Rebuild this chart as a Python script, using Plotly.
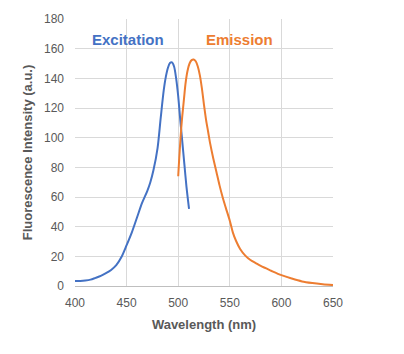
import plotly.graph_objects as go

# Excitation spectrum
ex_wl = [400, 405, 410, 415, 420, 425, 430, 435, 440, 445, 450, 455, 460, 465, 470,
         473, 476, 480, 483, 486, 488, 490, 492, 494, 496, 498, 500, 502, 504, 506, 508, 510.5]
ex_int = [3.3, 3.4, 3.7, 4.3, 5.5, 6.8, 8.6, 10.8, 14, 19.5, 27.5, 36, 46, 56, 64,
          70, 78, 93, 113, 132, 141, 147, 150.3, 150.8, 148, 140, 128, 112, 97, 82, 67, 52]

# Emission spectrum
em_wl = [500, 501, 502, 503, 504, 505, 506, 507, 509, 511, 513, 515, 517, 519, 521, 523,
         525, 527, 529, 531, 534, 537, 540, 543, 546, 550, 553, 556, 560, 565, 570, 575,
         580, 590, 600, 610, 620, 630, 640, 650]
em_int = [74, 86, 97, 107, 115, 122, 129, 136, 145, 150, 152.3, 152.7, 151.5, 148, 142, 133,
          122, 112, 104, 96, 86, 77, 68, 60, 53, 44, 36, 30.5, 25, 20.5, 17.5, 15.5,
          13.5, 10.3, 7.3, 5, 3.1, 2, 1.2, 0.6]

x_ticks = [400, 450, 500, 550, 600, 650]
y_ticks = [0, 20, 40, 60, 80, 100, 120, 140, 160, 180]

BLUE = "#4472C4"
ORANGE = "#ED7D31"
GRAY = "#595959"

fig = go.Figure()
fig.add_trace(go.Scatter(x=ex_wl, y=ex_int, mode="lines", name="Excitation",
                         line=dict(color=BLUE, width=2, shape="spline", smoothing=0.8)))
fig.add_trace(go.Scatter(x=em_wl, y=em_int, mode="lines", name="Emission",
                         line=dict(color=ORANGE, width=2, shape="spline", smoothing=0.8)))

fig.add_annotation(x=414.5, y=166, text="<b>Excitation</b>", showarrow=False,
                   xanchor="left", yanchor="middle",
                   font=dict(color=BLUE, size=15, family="Liberation Sans"))
fig.add_annotation(x=525, y=166, text="<b>Emission</b>", showarrow=False,
                   xanchor="left", yanchor="middle",
                   font=dict(color=ORANGE, size=15, family="Liberation Sans"))

fig.update_layout(
    width=404, height=354,
    margin=dict(l=75, r=71, t=15, b=68),
    paper_bgcolor="white", plot_bgcolor="white",
    showlegend=False,
    font=dict(family="Liberation Sans", size=12, color=GRAY),
    xaxis=dict(range=[400, 650], tickvals=x_ticks, showgrid=True, gridcolor="#D9D9D9",
               gridwidth=1, showline=True, linecolor="#BFBFBF", linewidth=1,
               zeroline=False, ticks="", ticklabelstandoff=6,
               title=dict(text="<b>Wavelength (nm)</b>", font=dict(size=13, color=GRAY),
                          standoff=10)),
    yaxis=dict(range=[0, 180], tickvals=y_ticks, showgrid=True, gridcolor="#D9D9D9",
               gridwidth=1, showline=False, zeroline=False, ticks="",
               ticklabelstandoff=10,
               title=dict(text="<b>Fluorescence Intensity (a.u.)</b>",
                          font=dict(size=13, color=GRAY), standoff=8)),
)

fig.write_html("out.html")
